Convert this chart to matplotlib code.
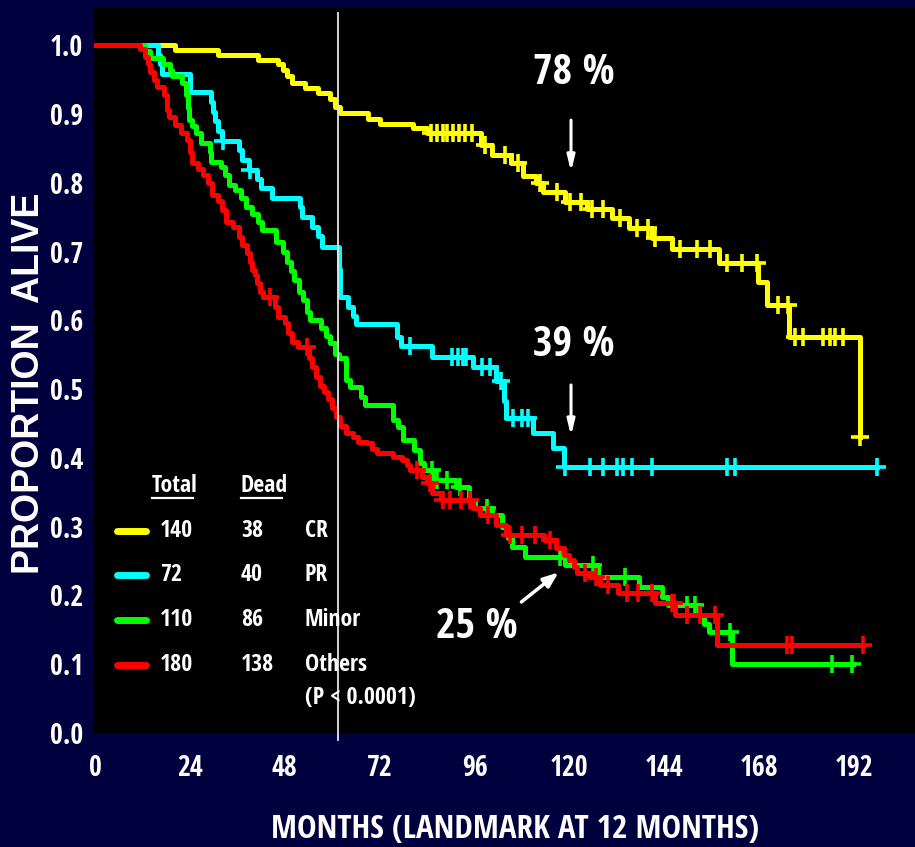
import numpy as np
import matplotlib.pyplot as plt
from matplotlib import font_manager
from matplotlib.font_manager import FontProperties
from matplotlib.textpath import TextPath
from matplotlib.lines import Line2D

NAVY = '#00003E'
SANS = ('DejaVu Sans', 'Liberation Sans', 'Noto Sans', 'Roboto', 'Open Sans', 'Lato', 'Inter')


def _weight(f):
    w = f.weight
    return font_manager.weight_dict.get(w, 400) if isinstance(w, str) else int(w)


def _shape(fp):
    # width of '192' over cap height, and cap height per em
    w = TextPath((0, 0), '192', size=100, prop=fp).get_extents().width
    cap = TextPath((0, 0), 'H', size=100, prop=fp).get_extents().height
    return w / cap, cap / 100


# the narrowest bold grotesque installed carries the condensed lettering
best = None
for f in font_manager.fontManager.ttflist:
    if not f.name.startswith(SANS) or 'CJK' in f.name or 'Mono' in f.name:
        continue
    if f.style != 'normal' or not 600 <= _weight(f) <= 800:
        continue
    try:
        ratio, cap_em = _shape(FontProperties(fname=f.fname))
    except Exception:
        continue
    if best is None or ratio < best[0]:
        best = (ratio, cap_em, f.fname)

if best:
    RATIO, CAP_EM, FP = best[0], best[1], FontProperties(fname=best[2])
else:
    FP = FontProperties(family='Liberation Sans', weight='bold')
    RATIO, CAP_EM = _shape(FP)
SQUEEZE = min(1.0, (1.61 / RATIO) ** 0.5)


def pt(cap_px):
    # font size in points giving roughly the wanted cap height in pixels
    return cap_px / (CAP_EM * 100 / 72) * SQUEEZE


TICK, LEG, PCT, XLAB = pt(21), pt(18), pt(32), pt(25)
WIDE = FontProperties(family='Liberation Sans', weight='bold', size=27)

# ---- survival data (months, proportion alive after each death) ----
cr_t = [20.2, 31.2, 41.3, 46.4, 47.6, 48.6, 49.9, 53.1, 56.4, 59.4, 60.7, 62.0,
        69.0, 72.1, 80.5, 84.0, 97.6, 100.4, 105.3, 108.3, 111.5, 113.2, 119.0,
        124.5, 130.8, 135.0, 141.0, 146.0, 157.8, 167.7, 170.0, 175.6, 193.5]
cr_s = [0.993, 0.986, 0.979, 0.972, 0.964, 0.955, 0.945, 0.937, 0.930, 0.922, 0.910, 0.901,
        0.893, 0.886, 0.879, 0.872, 0.855, 0.840, 0.828, 0.810, 0.799, 0.786, 0.772,
        0.762, 0.748, 0.734, 0.720, 0.703, 0.683, 0.656, 0.622, 0.576, 0.430]
cr_c = [85.0, 86.5, 88.0, 89.0, 90.6, 92.0, 93.5, 95.4, 98.7, 103.7, 107.0, 112.5,
        116.9, 120.2, 122.8, 125.7, 128.5, 132.8, 137.1, 139.9, 141.7, 148.0,
        152.3, 155.6, 159.9, 163.7, 167.5, 172.8, 175.3, 177.1, 179.1, 184.2,
        185.9, 187.2, 189.2, 193.5]
cr_end = 193.5

pr_t = [16.0, 16.5, 17.0, 24.0, 29.3, 29.8, 30.3, 31.0, 32.0, 36.3, 37.3, 39.0,
        41.0, 42.0, 44.8, 51.9, 52.4, 55.0, 56.5, 57.5, 61.6, 62.0, 64.0, 65.3,
        66.0, 76.4, 77.5, 85.2, 95.5, 101.3, 103.4, 104.0, 110.8, 115.9, 118.5]
pr_s = [0.986, 0.972, 0.958, 0.932, 0.917, 0.903, 0.889, 0.875, 0.861, 0.847, 0.833, 0.819,
        0.806, 0.792, 0.778, 0.764, 0.750, 0.736, 0.722, 0.706, 0.675, 0.634, 0.620, 0.606,
        0.594, 0.576, 0.562, 0.547, 0.532, 0.512, 0.482, 0.458, 0.436, 0.414, 0.387]
pr_c = [32.4, 39.2, 79.7, 90.3, 91.8, 93.1, 93.8, 97.9, 99.9, 102.6, 105.7, 108.0,
        109.6, 118.9, 125.2, 128.5, 132.0, 133.6, 135.8, 140.9, 159.9, 161.9, 197.8]
pr_end = 197.8

mi_t = [12.7, 13.8, 17.3, 19.0, 19.5, 22.0, 23.0, 23.4, 23.8, 24.5, 25.5, 26.8,
        29.0, 29.4, 31.8, 33.0, 34.0, 35.3, 37.0, 38.3, 39.8, 41.3, 42.2, 45.8,
        47.5, 48.5, 49.5, 50.3, 51.5, 52.7, 53.5, 54.3, 57.2, 58.5, 59.5, 60.8,
        61.8, 63.5, 64.5, 67.3, 68.2, 75.4, 76.6, 77.9, 80.8, 82.2, 83.3, 86.0,
        91.2, 94.5, 96.0, 100.5, 103.0, 104.5, 105.4, 108.8, 119.0, 127.3, 137.6,
        143.4, 145.0, 152.8, 154.0, 155.3, 161.2]
mi_s = [0.991, 0.982, 0.973, 0.964, 0.955, 0.945, 0.927, 0.909, 0.891, 0.882, 0.873, 0.858,
        0.845, 0.830, 0.823, 0.811, 0.797, 0.789, 0.778, 0.764, 0.755, 0.743, 0.731, 0.714,
        0.699, 0.685, 0.672, 0.658, 0.641, 0.629, 0.612, 0.601, 0.589, 0.577, 0.567, 0.551,
        0.545, 0.513, 0.503, 0.489, 0.477, 0.455, 0.445, 0.426, 0.411, 0.392, 0.382, 0.368,
        0.358, 0.338, 0.327, 0.317, 0.300, 0.284, 0.270, 0.256, 0.244, 0.227, 0.212,
        0.198, 0.186, 0.172, 0.158, 0.147, 0.101]
mi_c = [85.3, 86.5, 89.0, 92.3, 99.1, 117.6, 126.0, 134.0, 149.7, 151.7, 160.6,
        186.4, 191.5]
mi_end = 191.8

ot_t = [11.4, 12.7, 13.3, 14.0, 14.8, 15.8, 17.5, 18.3, 18.8, 20.3, 21.8, 23.3,
        24.0, 24.5, 26.0, 27.3, 28.6, 29.5, 31.0, 32.0, 33.2, 35.0, 36.3, 37.2,
        38.5, 39.2, 39.7, 40.5, 41.0, 41.8, 42.6, 45.5, 46.2, 48.0, 48.8, 49.8,
        51.3, 54.2, 55.0, 56.0, 57.0, 57.8, 59.0, 60.0, 61.0, 62.0, 63.5, 65.3,
        66.5, 68.8, 70.1, 71.4, 75.4, 77.7, 78.9, 79.7, 82.8, 84.0, 85.3, 87.5,
        95.5, 97.5, 101.5, 104.0, 113.5, 116.6, 118.5, 120.0, 121.2, 122.0, 125.2,
        127.8, 132.3, 141.7, 146.8, 157.3]
ot_s = [0.994, 0.983, 0.972, 0.961, 0.950, 0.939, 0.928, 0.906, 0.895, 0.884, 0.873, 0.862,
        0.845, 0.828, 0.820, 0.811, 0.799, 0.782, 0.773, 0.760, 0.743, 0.735, 0.721, 0.709,
        0.698, 0.685, 0.673, 0.666, 0.654, 0.641, 0.634, 0.620, 0.605, 0.596, 0.581, 0.568,
        0.561, 0.545, 0.532, 0.517, 0.505, 0.496, 0.486, 0.473, 0.460, 0.446, 0.436, 0.430,
        0.423, 0.421, 0.413, 0.407, 0.401, 0.397, 0.390, 0.382, 0.372, 0.363, 0.349, 0.339,
        0.327, 0.317, 0.302, 0.288, 0.281, 0.269, 0.259, 0.251, 0.241, 0.233, 0.227,
        0.215, 0.203, 0.189, 0.172, 0.128]
ot_c = [44.3, 53.7, 81.4, 84.7, 88.0, 89.8, 92.5, 94.9, 99.4, 105.0, 108.0, 111.3,
        115.1, 124.0, 126.6, 129.7, 134.6, 137.4, 141.0, 146.0, 146.5, 149.7, 153.1,
        156.8, 175.0, 176.3, 194.3]
ot_end = 194.3

groups = ['CR', 'PR', 'Minor', 'Others']
totals = [140, 72, 110, 180]
deaths = [38, 40, 86, 138]
colors = ['#FFFF00', '#00FFFF', '#00FF00', '#FF0000']
curves = [(cr_t, cr_s, cr_c, cr_end), (pr_t, pr_s, pr_c, pr_end),
          (mi_t, mi_s, mi_c, mi_end), (ot_t, ot_s, ot_c, ot_end)]

landmark = 61.4
x_ticks = [0, 24, 48, 72, 96, 120, 144, 168, 192]
y_ticks = [0.0, 0.1, 0.2, 0.3, 0.4, 0.5, 0.6, 0.7, 0.8, 0.9, 1.0]


def level_at(times, surv, t):
    st = np.r_[1.0, surv]
    return st[np.searchsorted(times, t, side='right')]


def txt(x, y, s, size, **kw):
    # x, y in pixels from the top-left corner of the figure
    kw.setdefault('va', 'center')
    return fig.text(x / W, 1 - y / H, s, color='white', fontproperties=FP,
                    fontsize=size, **kw)


W, H = 915, 847
fig = plt.figure(figsize=(W / 100, H / 100), dpi=100, facecolor=NAVY)
ax = fig.add_axes([94 / W, 1 - 733 / H, 1 - 94 / W, (733 - 8) / H])
ax.set_facecolor('black')
ax.set_xlim(-0.25, 207.4)
ax.set_ylim(0, 1.054)
for sp in ax.spines.values():
    sp.set_visible(False)

ax.set_xticks(x_ticks)
ax.set_xticklabels([str(v) for v in x_ticks], fontproperties=FP, fontsize=TICK)
ax.set_yticks(y_ticks)
ax.set_yticklabels(['%.1f' % v for v in y_ticks], fontproperties=FP, fontsize=TICK)
ax.tick_params(axis='both', length=0, colors='white')
ax.tick_params(axis='x', pad=15)
ax.tick_params(axis='y', pad=8)

for (t, s, c, end), col in zip(curves, colors):
    xs = np.r_[0.0, t, end]
    ys = np.r_[1.0, s, s[-1]]
    ax.step(xs, ys, where='post', color=col, lw=3.6, zorder=3)
    ax.plot(c, level_at(t, s, c), ls='none', marker='+', ms=13, mew=2.6,
            color=col, zorder=3)

# landmark line
ax.plot([landmark, landmark], [-0.01, 1.047], color='#E6E6E6', lw=1.3,
        clip_on=False, zorder=5)

# survival call-outs
arrow_kw = dict(color='white', lw=2.2)
ax.text(121, 0.959, '78 %', ha='center', va='center', color='white',
        fontproperties=FP, fontsize=PCT)
ax.annotate('', xy=(120.4, 0.812), xytext=(120.4, 0.895),
            arrowprops=dict(arrowstyle='-|>,head_length=0.9,head_width=0.22', **arrow_kw))
ax.text(121, 0.564, '39 %', ha='center', va='center', color='white',
        fontproperties=FP, fontsize=PCT)
ax.annotate('', xy=(120.4, 0.428), xytext=(120.4, 0.510),
            arrowprops=dict(arrowstyle='-|>,head_length=0.9,head_width=0.22', **arrow_kw))
ax.text(96.6, 0.153, '25 %', ha='center', va='center', color='white',
        fontproperties=FP, fontsize=PCT)
ax.annotate('', xy=(117.8, 0.236), xytext=(107.3, 0.188),
            arrowprops=dict(arrowstyle='-|>,head_length=0.9,head_width=0.35',
                            color='white', lw=2.5))

# axis titles
txt(515, 829, 'MONTHS (LANDMARK AT 12 MONTHS)', XLAB, ha='center')
fig.text(29 / W, 1 - 383 / H, 'PROPORTION  ALIVE', rotation=90, ha='center',
         va='center', color='white', fontproperties=WIDE)

# legend table
txt(152, 486, 'Total', LEG)
txt(241, 486, 'Dead', LEG)
for x0, x1 in [(152, 193), (241, 282)]:
    fig.add_artist(Line2D([x0 / W, x1 / W], [1 - 498 / H] * 2, color='white', lw=1.6))
rows = [531, 575, 620, 665]
for yp, col, n, d, g in zip(rows, colors, totals, deaths, groups):
    fig.add_artist(Line2D([117 / W, 146 / W], [1 - yp / H] * 2, color=col, lw=5,
                          solid_capstyle='round'))
    txt(160, yp, str(n), LEG)
    txt(241, yp, str(d), LEG)
    txt(305, yp, g, LEG)
txt(305, 698, '(P < 0.0001)', LEG)

fig.savefig('out.png', dpi=100, facecolor=NAVY)
